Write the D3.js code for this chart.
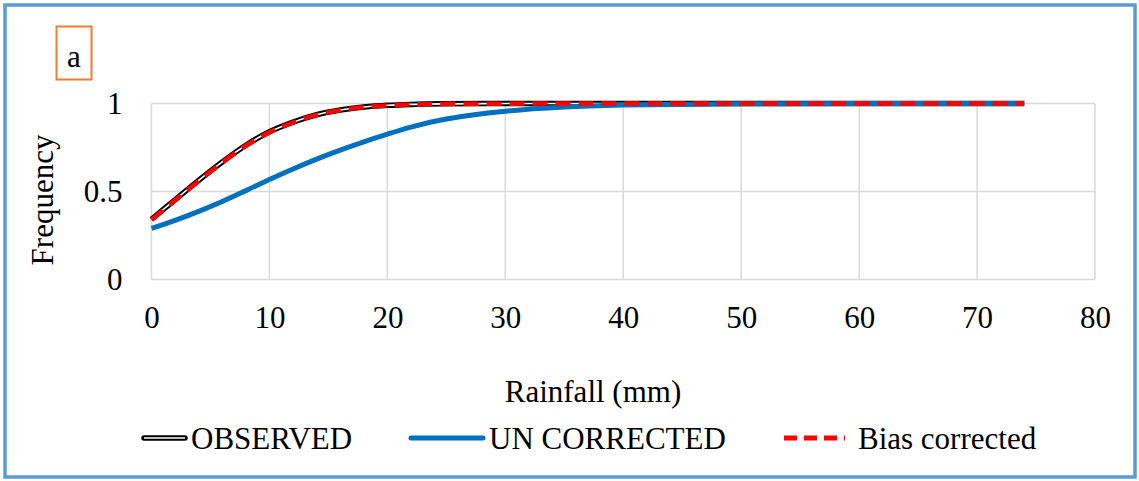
<!DOCTYPE html>
<html>
<head>
<meta charset="utf-8">
<script src="https://cdn.jsdelivr.net/npm/d3@7"></script>
<style>
  html, body { margin: 0; padding: 0; background: #fff; }
  svg { display: block; }
</style>
</head>
<body>
<svg id="chart" width="1139" height="481"></svg>
<script>
// Rainfall (mm) sample points
const rainfall = [0, 2, 4, 6, 8, 10, 12, 14, 16, 18, 20, 22, 25, 30, 35, 40, 50, 60, 74];
// Cumulative frequency per series
const observed      = [0.342, 0.453, 0.563, 0.668, 0.763, 0.839, 0.894, 0.936, 0.963, 0.980, 0.990, 0.995, 0.998, 1.000, 1.000, 1.000, 1.000, 1.000, 1.000];
const uncorrected   = [0.290, 0.336, 0.387, 0.443, 0.505, 0.568, 0.628, 0.684, 0.735, 0.782, 0.826, 0.866, 0.912, 0.956, 0.980, 0.991, 0.998, 1.000, 1.000];
const biasCorrected = [0.340, 0.450, 0.560, 0.665, 0.760, 0.836, 0.892, 0.935, 0.962, 0.979, 0.989, 0.994, 0.998, 0.999, 1.000, 1.000, 1.000, 1.000, 1.000];
const xTicks = [0, 10, 20, 30, 40, 50, 60, 70, 80];
const yTicks = [0, 0.5, 1];
const seriesNames = ["OBSERVED", "UN CORRECTED", "Bias corrected"];

const FONT = "Liberation Serif";
const FS = 31;
const svg = d3.select("#chart");

// outer frame
svg.append("rect")
  .attr("x", 5).attr("y", 5).attr("width", 1130).attr("height", 472)
  .attr("fill", "#fff").attr("stroke", "#5B9BD5").attr("stroke-width", 3.5);

// panel tag
svg.append("rect")
  .attr("x", 56.5).attr("y", 26.5).attr("width", 35).attr("height", 53)
  .attr("fill", "none").attr("stroke", "#ED7D31").attr("stroke-width", 2);
svg.append("text")
  .attr("x", 74).attr("y", 67).attr("text-anchor", "middle")
  .attr("font-family", FONT).attr("font-size", FS).attr("fill", "#000").text("a");

const x = d3.scaleLinear().domain([0, 80]).range([151.5, 1095]);
const y = d3.scaleLinear().domain([0, 1]).range([279.5, 103.5]);

// gridlines
const grid = svg.append("g").attr("stroke", "#D9D9D9").attr("stroke-width", 1.5);
grid.selectAll("line.v").data(xTicks).join("line").attr("class", "v")
  .attr("x1", d => x(d)).attr("x2", d => x(d))
  .attr("y1", y(0)).attr("y2", y(1));
grid.selectAll("line.h").data(yTicks).join("line").attr("class", "h")
  .attr("x1", x(0)).attr("x2", x(80))
  .attr("y1", d => y(d)).attr("y2", d => y(d));

// axes (labels only, lines handled by the grid)
const xAxis = svg.append("g").attr("transform", `translate(0,${y(0)})`)
  .call(d3.axisBottom(x).tickValues(xTicks).tickSize(0).tickPadding(26).tickFormat(d3.format("d")));
const yAxis = svg.append("g").attr("transform", `translate(${x(0)},0)`)
  .call(d3.axisLeft(y).tickValues(yTicks).tickSize(0).tickPadding(29).tickFormat(d => d === 0.5 ? "0.5" : d3.format("d")(d)));
[xAxis, yAxis].forEach(a => {
  a.attr("font-family", FONT).attr("font-size", FS);
  a.select(".domain").remove();
  a.selectAll("text").attr("fill", "#000");
});
xAxis.selectAll("text").attr("dy", "0.71em");
yAxis.selectAll("text").attr("dy", "0.32em");

// axis titles
svg.append("text")
  .attr("x", 593).attr("y", 402).attr("text-anchor", "middle")
  .attr("font-family", FONT).attr("font-size", FS).attr("fill", "#000").text("Rainfall (mm)");
svg.append("text")
  .attr("transform", "translate(53,200) rotate(-90)")
  .attr("text-anchor", "middle").attr("font-family", FONT).attr("font-size", FS).attr("fill", "#000")
  .text("Frequency");

// series
const line = d3.line().x(d => x(d[0])).y(d => y(d[1])).curve(d3.curveCatmullRom.alpha(0.5));
const obsPts = rainfall.map((r, i) => [r, observed[i]]);
const uncPts = rainfall.map((r, i) => [r, uncorrected[i]]);
const biasPts = rainfall.map((r, i) => [r, biasCorrected[i]]);

const plot = svg.append("g").attr("fill", "none");
plot.append("path").attr("d", line(obsPts)).attr("stroke", "#000").attr("stroke-width", 5.5);
plot.append("path").attr("d", line(obsPts)).attr("stroke", "#fff").attr("stroke-width", 1.6);
plot.append("path").attr("d", line(uncPts)).attr("stroke", "#0070C0").attr("stroke-width", 5);
plot.append("path").attr("d", line(biasPts)).attr("stroke", "#FF0000").attr("stroke-width", 4.5)
  .attr("stroke-dasharray", "15,8");

// legend
const legend = svg.append("g");
const items = [
  { name: seriesNames[0], x0: 144, x1: 185, tx: 191 },
  { name: seriesNames[1], x0: 411, x1: 483, tx: 489 },
  { name: seriesNames[2], x0: 784, x1: 845, tx: 858 }
];
const ly = 438;
legend.append("line").attr("x1", items[0].x0).attr("x2", items[0].x1).attr("y1", ly).attr("y2", ly)
  .attr("stroke", "#000").attr("stroke-width", 5.5).attr("stroke-linecap", "round");
legend.append("line").attr("x1", items[0].x0).attr("x2", items[0].x1).attr("y1", ly).attr("y2", ly)
  .attr("stroke", "#fff").attr("stroke-width", 1.6);
legend.append("line").attr("x1", items[1].x0).attr("x2", items[1].x1).attr("y1", ly).attr("y2", ly)
  .attr("stroke", "#0070C0").attr("stroke-width", 5).attr("stroke-linecap", "round");
legend.append("line").attr("x1", items[2].x0).attr("x2", items[2].x1).attr("y1", ly).attr("y2", ly)
  .attr("stroke", "#FF0000").attr("stroke-width", 5).attr("stroke-dasharray", "13,7");
legend.selectAll("text").data(items).join("text")
  .attr("x", d => d.tx).attr("y", ly).attr("dy", "0.35em")
  .attr("font-family", FONT).attr("font-size", FS).attr("fill", "#000").text(d => d.name);
</script>
</body>
</html>
